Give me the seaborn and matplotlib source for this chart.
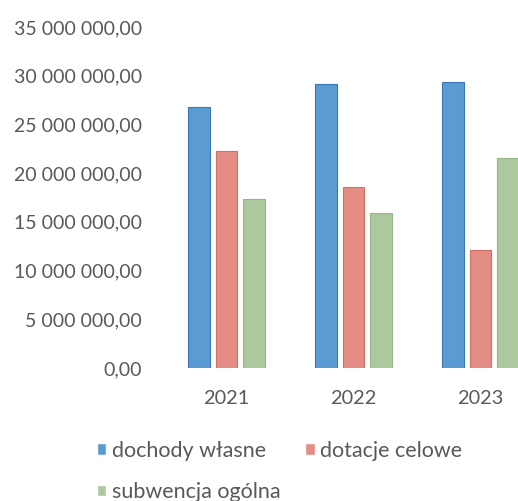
import matplotlib
matplotlib.use("Agg")
import matplotlib.pyplot as plt
from matplotlib.ticker import FuncFormatter
import pandas as pd
import seaborn as sns

years = ["2021", "2022", "2023"]
series = ["dochody własne", "dotacje celowe", "subwencja ogólna"]
dochody_wlasne = [26.8e6, 29.2e6, 29.4e6]
dotacje_celowe = [22.3e6, 18.6e6, 12.1e6]
subwencja_ogolna = [17.3e6, 15.9e6, 21.6e6]
colors = ["#5b9bd3", "#e38d84", "#abc99c"]
edges = ["#3a78b4", "#cf7168", "#93b686"]

df = pd.DataFrame({
    "rok": years * 3,
    "kategoria": [s for s in series for _ in years],
    "kwota": dochody_wlasne + dotacje_celowe + subwencja_ogolna,
})

sns.set_style("white")
plt.rcParams["font.family"] = ["Lato", "DejaVu Sans"]

fig = plt.figure(figsize=(5.18, 5.01), dpi=100)
ax = fig.add_axes([163 / 518, 133 / 501, 1 - 163 / 518, 341 / 501])

sns.barplot(data=df, x="rok", y="kwota", hue="kategoria", palette=colors,
            saturation=1, width=0.64, gap=0.19, ax=ax, legend=True)

for patches, ec in zip(ax.containers, edges):
    for p in patches:
        p.set_edgecolor(ec)
        p.set_linewidth(0.8)

def fmt(v, pos):
    s = f"{v:,.2f}"
    return s.replace(",", " ").replace(".", ",")

ax.yaxis.set_major_formatter(FuncFormatter(fmt))
ax.set_ylim(0, 35e6)
ax.set_yticks(range(0, 35000001, 5000000))
ax.set_xlim(-0.5, -0.5 + (518 - 163) / 127)
ax.set_xlabel("")
ax.set_ylabel("")
sns.despine(ax=ax, left=True, bottom=True)
ax.tick_params(axis="y", length=0, pad=15, labelsize=14, labelcolor="#595959")
ax.tick_params(axis="x", length=0, pad=16, labelsize=14.3, labelcolor="#595959")

handles, labels = ax.get_legend_handles_labels()
ax.get_legend().remove()
order = [0, 2, 1]
fig.legend([handles[i] for i in order], [labels[i] for i in order],
           ncol=2, loc="upper left", bbox_to_anchor=(86 / 518, 1 - 430 / 501),
           frameon=False, fontsize=15.5, handlelength=0.45, handleheight=0.45,
           handletextpad=0.25, columnspacing=1.15, labelspacing=1.0,
           borderpad=0, labelcolor="#595959")

fig.savefig("out.png", dpi=100)
